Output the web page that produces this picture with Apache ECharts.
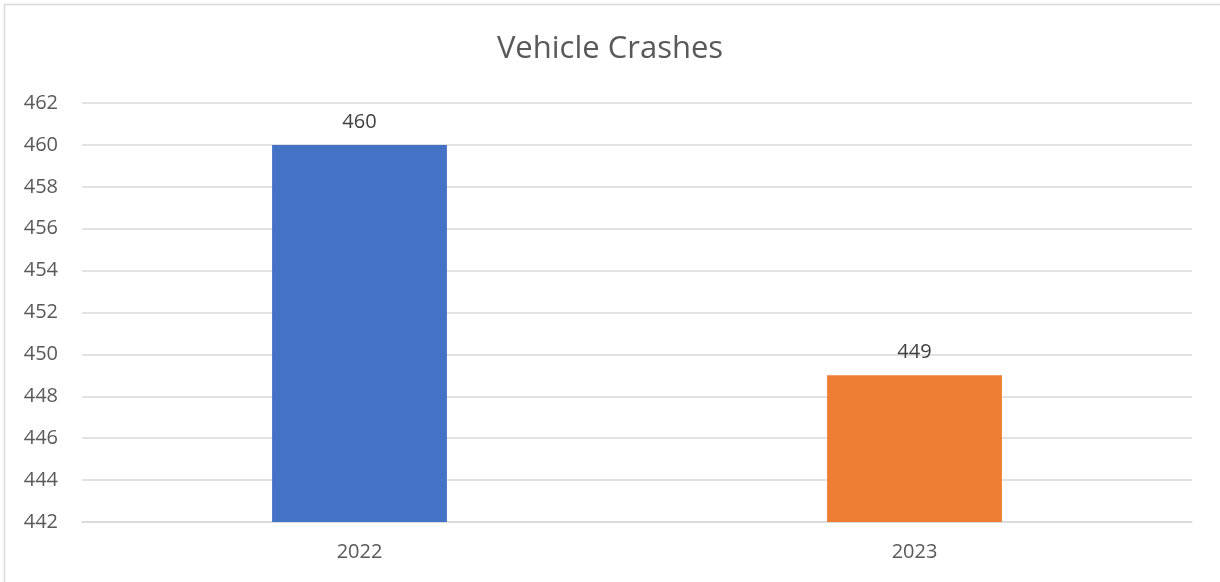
<!DOCTYPE html>
<html><head><meta charset="utf-8">
<script src="https://cdn.jsdelivr.net/npm/echarts@6/dist/echarts.min.js"></script>
<style>html,body{margin:0;padding:0;background:#fff}#c{width:1220px;height:582px}</style>
</head><body><div id="c"></div>
<script>
const categories = ['2022', '2023'];
const values = [460, 449];
const barColors = ['#4472C4', '#ED7D31'];
const yMin = 442, yMax = 462, yStep = 2;

const chart = echarts.init(document.getElementById('c'), null, {renderer: 'canvas'});
const font = '"Open Sans", Calibri, sans-serif';
chart.setOption({
  animation: false,
  backgroundColor: '#fff',
  graphic: [{
    type: 'rect', shape: {x: 4.5, y: 4.5, width: 1300, height: 700},
    style: {fill: 'none', stroke: '#d9d9d9', lineWidth: 1.5}, silent: true, z: -1
  }],
  title: {
    text: 'Vehicle Crashes', left: 'center', top: 29,
    textStyle: {fontFamily: font, fontSize: 31, fontWeight: 'normal', color: '#595959'}
  },
  grid: {left: 82, right: 28, top: 103, bottom: 60},
  xAxis: {
    type: 'category', data: categories,
    axisLine: {show: true, lineStyle: {color: '#d9d9d9', width: 1.5}},
    axisTick: {show: false},
    axisLabel: {fontFamily: font, fontSize: 20, color: '#595959', margin: 20}
  },
  yAxis: {
    type: 'value', min: yMin, max: yMax, interval: yStep,
    axisLine: {show: false}, axisTick: {show: false},
    splitLine: {lineStyle: {color: '#d9d9d9', width: 1.5}},
    axisLabel: {fontFamily: font, fontSize: 20, color: '#595959', margin: 24}
  },
  series: [{
    type: 'bar', barWidth: '31.5%',
    data: values.map((v, i) => ({value: v, itemStyle: {color: barColors[i]}})),
    label: {show: true, position: 'top', distance: 13, fontFamily: font, fontSize: 20, color: '#404040'}
  }]
});
</script></body></html>
